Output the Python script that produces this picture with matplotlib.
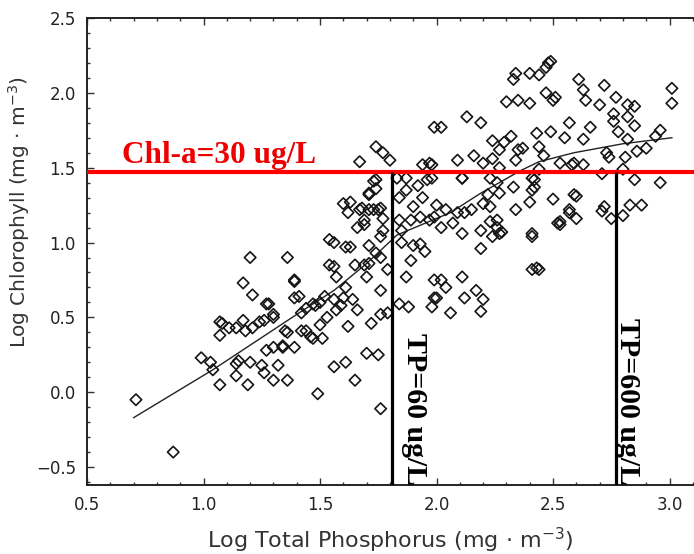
import numpy as np
import matplotlib
matplotlib.use("Agg")
import matplotlib.pyplot as plt
from matplotlib.ticker import MultipleLocator

## Data (log TP, log Chl)
tp = [0.71, 0.87, 0.99, 1.03, 1.04, 1.07, 1.07, 1.07, 1.08, 1.11, 1.14, 1.17, 1.18, 1.21,
      1.24, 1.26, 1.30, 1.17, 1.21, 1.28, 1.20, 1.36, 1.14, 1.15, 1.14, 1.20, 1.19, 1.25,
      1.26, 1.30, 1.32, 1.27, 1.30, 1.34, 1.35, 1.36, 1.39, 1.36, 1.42, 1.46, 1.42, 1.47,
      1.39, 1.30, 1.27, 1.39, 1.49, 1.39, 1.41, 1.44, 1.48, 1.44, 1.47, 1.34,
      1.50, 1.51, 1.50, 1.52, 1.56, 1.59, 1.56, 1.61, 1.65, 1.70, 1.75, 1.76, 1.72, 1.76,
      1.79, 1.54, 1.56, 1.56, 1.63, 1.54, 1.57, 1.61, 1.65, 1.69, 1.71, 1.63, 1.62, 1.68,
      1.71, 1.75, 1.77, 1.66, 1.69, 1.71, 1.74, 1.74, 1.67, 1.74, 1.77, 1.80, 1.76, 1.76,
      1.70, 1.79, 1.76, 1.60, 1.61, 1.67, 1.73, 1.71, 1.77, 1.74, 1.71, 1.69, 1.73, 1.76,
      1.60, 1.53, 1.57, 1.64, 1.66, 1.62,
      1.83, 1.87, 1.84, 1.87, 1.92, 1.96, 1.98, 1.97, 1.99, 1.84, 1.89, 1.90, 1.94, 1.93,
      1.97, 1.85, 1.90, 1.93, 1.95, 1.85, 1.89, 1.87, 1.99, 1.84, 1.88, 1.98, 1.99, 2.02,
      2.04, 2.11, 2.00, 2.06, 2.12, 2.17, 2.20, 2.19, 1.94, 2.00, 1.99, 2.02, 2.07, 2.11,
      2.19, 2.23, 2.26, 2.28, 2.24, 2.19, 2.41, 2.52, 2.41, 2.04, 2.09, 2.12, 2.15, 2.20,
      2.23, 2.22, 2.27, 2.34, 2.40, 2.50, 2.42, 2.41, 2.33, 2.26, 2.23, 2.11, 1.98, 2.27,
      2.34, 2.24, 2.20, 2.16, 2.09, 2.46, 2.44, 2.37, 2.35, 2.27, 2.29, 2.32, 2.49, 2.43,
      2.24, 2.19, 2.13, 2.02, 2.30, 2.35, 2.40, 2.34, 2.33, 2.40, 2.44, 2.48, 2.47, 2.51,
      2.53, 2.57, 2.60, 2.72, 2.71, 2.75, 2.80, 2.83, 2.88, 2.44, 3.01, 3.01, 2.96, 2.96,
      2.85, 2.80, 2.71, 2.63, 2.58, 2.53, 2.81, 2.86, 2.90, 2.94, 2.82, 2.78, 2.85, 2.82,
      2.76, 2.76, 2.77, 2.72, 2.70, 2.82, 2.85, 2.64, 2.63, 2.61, 2.66, 2.63, 2.57, 2.55,
      2.50, 2.49, 2.47, 2.73, 2.74, 2.59, 2.57, 2.53, 2.44, 2.41, 2.60, 2.41, 2.27, 2.26,
      2.43, 2.59, 2.42, 2.11]
chl = [-0.05, -0.40, 0.23, 0.20, 0.15, 0.05, 0.38, 0.47, 0.46, 0.43, 0.43, 0.48, 0.41, 0.43,
       0.47, 0.48, 0.50, 0.73, 0.65, 0.59, 0.90, 0.90, 0.19, 0.21, 0.11, 0.20, 0.05, 0.18,
       0.13, 0.08, 0.18, 0.28, 0.30, 0.30, 0.41, 0.08, 0.30, 0.40, 0.41, 0.37, 0.53, 0.59,
       0.63, 0.52, 0.59, 0.74, -0.01, 0.75, 0.64, 0.56, 0.58, 0.41, 0.36, 0.31,
       0.60, 0.36, 0.45, 0.64, 0.62, 0.58, 0.17, 0.20, 0.08, 0.26, 0.25, -0.11, 0.46, 0.52,
       0.53, 1.02, 0.84, 1.00, 0.97, 0.85, 0.77, 0.70, 0.85, 0.85, 0.98, 1.27, 1.20, 1.23,
       1.22, 1.22, 1.16, 1.10, 1.12, 1.32, 1.42, 1.36, 1.54, 1.64, 1.60, 1.55, 1.04, 0.90,
       0.77, 0.82, 0.68, 1.26, 0.97, 1.22, 1.41, 1.33, 1.08, 0.93, 0.86, 1.15, 1.22, 1.23,
       0.63, 0.50, 0.55, 0.62, 0.55, 0.44,
       1.43, 1.43, 1.30, 1.35, 1.38, 1.42, 1.43, 1.53, 1.77, 1.15, 1.15, 1.24, 1.30, 1.17,
       1.15, 1.08, 0.98, 0.99, 0.94, 1.00, 0.88, 0.77, 0.75, 0.59, 0.57, 0.57, 0.63, 0.75,
       0.70, 0.77, 0.63, 0.53, 0.63, 0.68, 0.62, 0.54, 1.52, 1.25, 1.17, 1.10, 1.13, 1.06,
       1.08, 1.14, 1.10, 1.07, 1.04, 0.96, 1.04, 1.13, 0.82, 1.22, 1.20, 1.20, 1.22, 1.26,
       1.24, 1.32, 1.33, 1.22, 1.27, 1.29, 1.37, 1.43, 1.37, 1.40, 1.43, 1.43, 1.52, 1.50,
       1.55, 1.56, 1.53, 1.58, 1.55, 1.58, 1.64, 1.63, 1.62, 1.62, 1.67, 1.71, 1.74, 1.73,
       1.68, 1.80, 1.84, 1.77, 1.94, 1.95, 1.93, 2.13, 2.09, 2.13, 2.12, 2.20, 2.00, 1.97,
       1.12, 1.20, 1.16, 1.24, 1.21, 1.16, 1.18, 1.25, 1.25, 0.82, 2.03, 1.93, 1.75, 1.40,
       1.42, 1.49, 1.46, 1.52, 1.52, 1.53, 1.57, 1.61, 1.63, 1.71, 1.69, 1.74, 1.78, 1.84,
       1.81, 1.86, 1.97, 2.05, 1.92, 1.92, 1.91, 1.95, 2.02, 2.09, 1.77, 1.69, 1.80, 1.70,
       1.95, 2.21, 2.17, 1.60, 1.57, 1.32, 1.22, 1.14, 1.49, 1.35, 1.31, 1.06, 1.06, 1.15,
       0.83, 1.53, 1.42, 1.43]

# fitted curve from the source figure
fit_x = [0.70, 1.04, 1.41, 1.56, 1.70, 1.83, 2.06, 2.19, 2.36, 2.44, 2.59, 2.80, 3.01]
fit_y = [-0.17, 0.15, 0.53, 0.68, 0.86, 1.05, 1.20, 1.33, 1.48, 1.54, 1.60, 1.66, 1.70]

chl_limit = 1.47           # log10(30 ug/L)
tp_limits = [1.81, 2.77]   # TP = 60 and 600 ug/L
tp_labels = ["TP=60 ug/L", "TP=600 ug/L"]
tp_label_x = [1.873, 2.787]
tp_label_y = [0.395, 0.495]

fig = plt.figure(figsize=(6.94, 5.54), dpi=100)
ax = fig.add_axes([0.1254, 0.1245, 0.8746, 0.843])

ax.plot(fit_x, fit_y, color="#222222", lw=1.0, zorder=2)
ax.scatter(tp, chl, marker="D", s=34, facecolors="none", edgecolors="#151515",
           linewidths=1.2, zorder=3)

ax.axhline(chl_limit, color="#ff0000", lw=3.0, zorder=4)
ax.vlines(tp_limits, -0.7, chl_limit, colors="black", lw=2.3, zorder=4)

serif = dict(family="Liberation Serif", weight="bold")
ax.text(0.65, 1.53, "Chl-a=30 ug/L", color="#ee0000", fontsize=22.5,
        va="baseline", ha="left", zorder=5, **serif)
for x, y, s in zip(tp_label_x, tp_label_y, tp_labels):
    ax.text(x, y, s, rotation=-90, rotation_mode="anchor", ha="left",
            va="baseline", fontsize=21.5, color="black", zorder=5, **serif)

ax.set_xlim(0.5, 3.105)
ax.set_ylim(-0.62, 2.5)
ax.xaxis.set_major_locator(MultipleLocator(0.5))
ax.yaxis.set_major_locator(MultipleLocator(0.5))
ax.xaxis.set_minor_locator(MultipleLocator(0.1))
ax.yaxis.set_minor_locator(MultipleLocator(0.1))
ax.tick_params(which="both", direction="in", top=True, right=False, colors="#333333",
               labelsize=12, width=1.0)
ax.tick_params(which="major", length=5, pad=8)
ax.tick_params(which="minor", length=2.5)
for lab in ax.get_xticklabels() + ax.get_yticklabels():
    lab.set_color("#222222")

for side in ["left", "bottom", "top"]:
    ax.spines[side].set_linewidth(1.4)
    ax.spines[side].set_color("#222222")
ax.spines["right"].set_visible(False)

ax.set_xlabel("Log Total Phosphorus (mg \u00b7 m$^{-3}$)", fontsize=16, color="#333333")
ax.set_ylabel("Log Chlorophyll (mg \u00b7 m$^{-3}$)", fontsize=14.5, color="#333333")
ax.xaxis.set_label_coords(0.5, -0.088)
ax.yaxis.set_label_coords(-0.0906, 0.585)

fig.savefig("out.png", dpi=100)
